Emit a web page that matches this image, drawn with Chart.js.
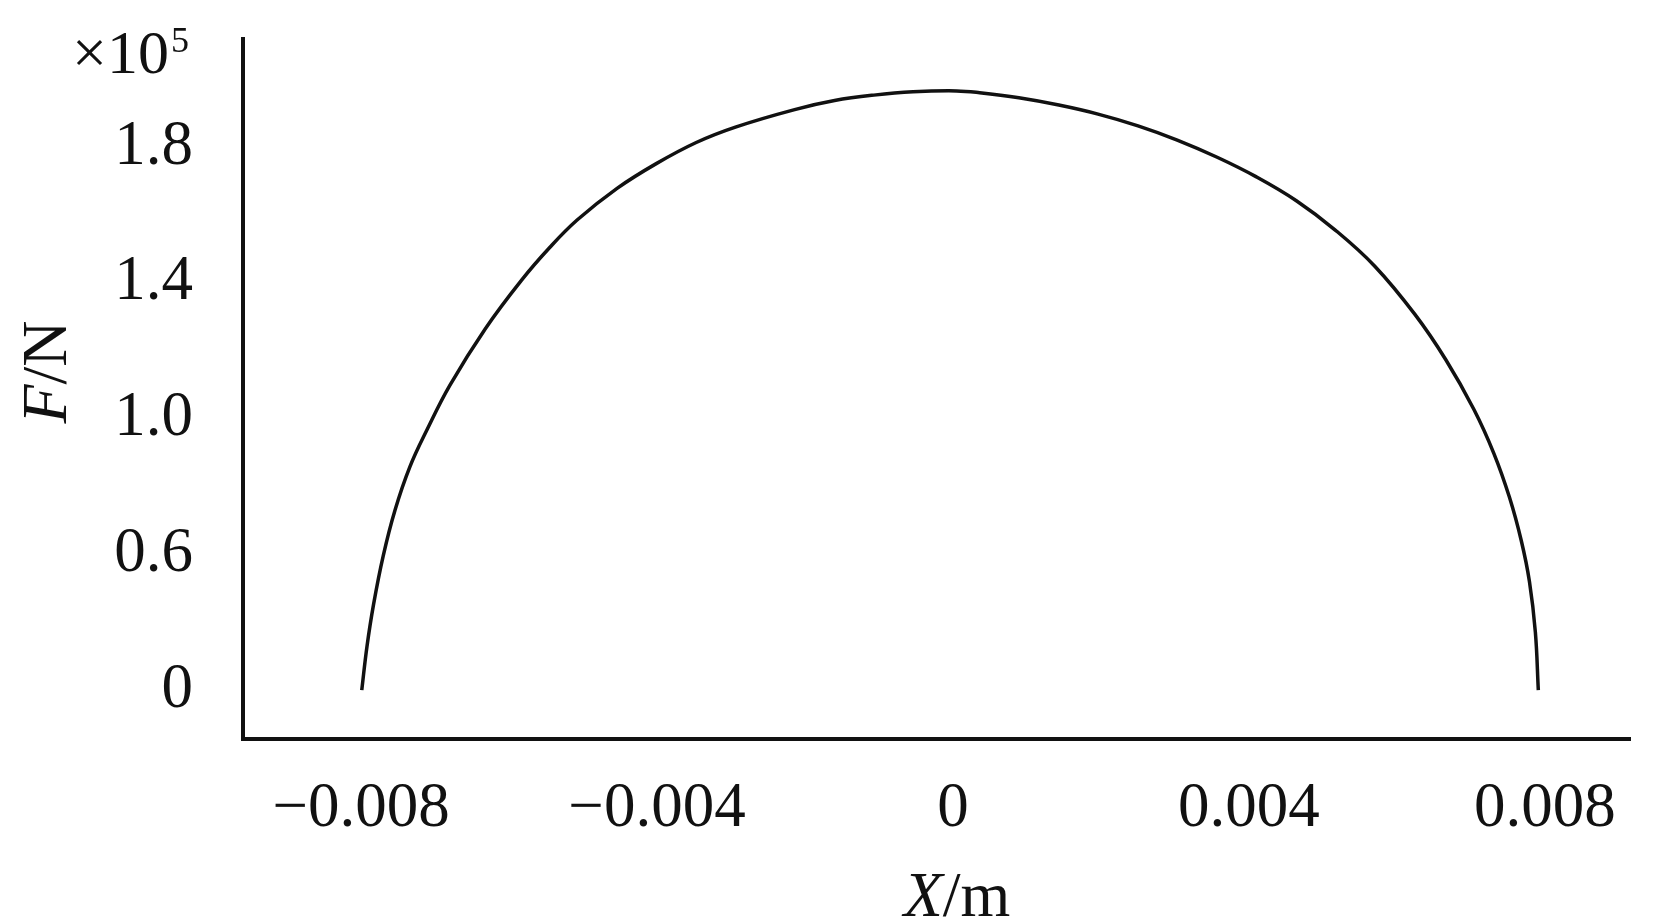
<!DOCTYPE html>
<html>
<head>
<meta charset="utf-8">
<script src="https://cdn.jsdelivr.net/npm/chart.js@4"></script>
<style>
  html, body { margin: 0; padding: 0; background: #fff; }
  canvas { display: block; }
</style>
</head>
<body>
<canvas id="chart" width="1654" height="922"></canvas>
<script>
// displacement X (m) and force F (x10^5 N)
const xValues = [-0.00799, -0.00792, -0.00783, -0.00770, -0.00754, -0.00734, -0.00711, -0.00680,
    -0.00632, -0.00583, -0.00545, -0.00508, -0.00454, -0.00401, -0.00347, -0.00294,
    -0.00214, -0.00160, -0.00107, -0.00054, 0.00005, 0.00036, 0.00089, 0.00143,
    0.00196, 0.00250, 0.00303, 0.00357, 0.00410, 0.00464, 0.00517, 0.00570,
    0.00624, 0.00666, 0.00704, 0.00731, 0.00752, 0.00768, 0.00779, 0.00787, 0.00791];
const fValues = [0, 0.144, 0.285, 0.445, 0.597, 0.740, 0.862, 1.010,
    1.198, 1.359, 1.467, 1.558, 1.663, 1.745, 1.815, 1.866,
    1.924, 1.954, 1.972, 1.983, 1.986, 1.980, 1.963, 1.939,
    1.909, 1.870, 1.823, 1.766, 1.701, 1.622, 1.524, 1.405,
    1.246, 1.095, 0.930, 0.784, 0.639, 0.495, 0.360, 0.192, 0];

const xTickValues = [-0.008, -0.004, 0, 0.004, 0.008];
const xTickLabels = ['\u22120.008', '\u22120.004', '0', '0.004', '0.008'];
// the printed labels are evenly spaced even though they are not
const yTickValues = [0, 0.45, 0.9, 1.35, 1.8];
const yTickLabels = ['0', '0.6', '1.0', '1.4', '1.8'];

const FONT = '"Liberation Serif", "DejaVu Serif", serif';
const INK = '#111';

const points = xValues.map((x, i) => ({ x: x, y: fValues[i] }));

// axis titles with italic symbols and the x10^5 multiplier
const labelsPlugin = {
    id: 'axisLabels',
    afterDraw(chart) {
        const ctx = chart.ctx;
        ctx.save();
        ctx.fillStyle = INK;
        ctx.textBaseline = 'middle';

        // X/m under the x axis
        const italic = 'italic 64px ' + FONT;
        const upright = '64px ' + FONT;
        ctx.font = italic;
        const wX = ctx.measureText('X').width;
        ctx.font = upright;
        const wM = ctx.measureText('/m').width;
        let x0 = 957 - (wX + wM) / 2;
        ctx.textAlign = 'left';
        ctx.font = italic;
        ctx.fillText('X', x0, 899);
        ctx.font = upright;
        ctx.fillText('/m', x0 + wX, 899);

        // F/N rotated beside the y axis
        ctx.save();
        ctx.translate(49, 372);
        ctx.rotate(-Math.PI / 2);
        ctx.font = italic;
        const wF = ctx.measureText('F').width;
        ctx.font = upright;
        const wN = ctx.measureText('/N').width;
        x0 = -(wF + wN) / 2;
        ctx.font = italic;
        ctx.fillText('F', x0, 0);
        ctx.font = upright;
        ctx.fillText('/N', x0 + wF, 0);
        ctx.restore();

        // x10^5
        ctx.textBaseline = 'alphabetic';
        ctx.textAlign = 'right';
        ctx.font = '62px ' + FONT;
        ctx.fillText('\u00d710', 169, 73);
        ctx.textAlign = 'left';
        ctx.font = '36px ' + FONT;
        ctx.fillText('5', 171, 52);
        ctx.restore();
    }
};

const ctx = document.getElementById('chart').getContext('2d');
const chart = new Chart(ctx, {
    type: 'scatter',
    data: {
        datasets: [{
            data: points,
            showLine: true,
            borderColor: INK,
            borderWidth: 3.5,
            pointRadius: 0,
            fill: false,
            tension: 0.4
        }]
    },
    options: {
        responsive: false,
        animation: false,
        layout: {
            padding: { left: 0, top: 39, right: 24, bottom: 0 }
        },
        scales: {
            x: {
                type: 'linear',
                min: -0.009595,
                max: 0.009149,
                afterBuildTicks: function(scale) {
                    scale.ticks = xTickValues.map(v => ({ value: v }));
                },
                afterFit: function(scale) {
                    scale.height = 183;
                    scale.paddingLeft = 0;
                    scale.paddingRight = 0;
                },
                ticks: {
                    color: INK,
                    padding: 33,
                    maxRotation: 0,
                    font: { family: FONT, size: 63 },
                    callback: function(value, index) {
                        return xTickLabels[index];
                    }
                },
                grid: { display: false, drawTicks: false },
                border: { display: true, color: INK, width: 4 }
            },
            y: {
                type: 'linear',
                min: -0.162,
                max: 2.158,
                afterBuildTicks: function(scale) {
                    scale.ticks = yTickValues.map(v => ({ value: v }));
                },
                afterFit: function(scale) {
                    scale.width = 243;
                    scale.paddingTop = 0;
                    scale.paddingBottom = 0;
                },
                ticks: {
                    color: INK,
                    padding: 50,
                    font: { family: FONT, size: 63 },
                    callback: function(value, index) {
                        return yTickLabels[index];
                    }
                },
                grid: { display: false, drawTicks: false },
                border: { display: true, color: INK, width: 4 }
            }
        },
        plugins: {
            legend: { display: false },
            tooltip: { enabled: false },
            title: { display: false }
        }
    },
    plugins: [labelsPlugin]
});
</script>
</body>
</html>
